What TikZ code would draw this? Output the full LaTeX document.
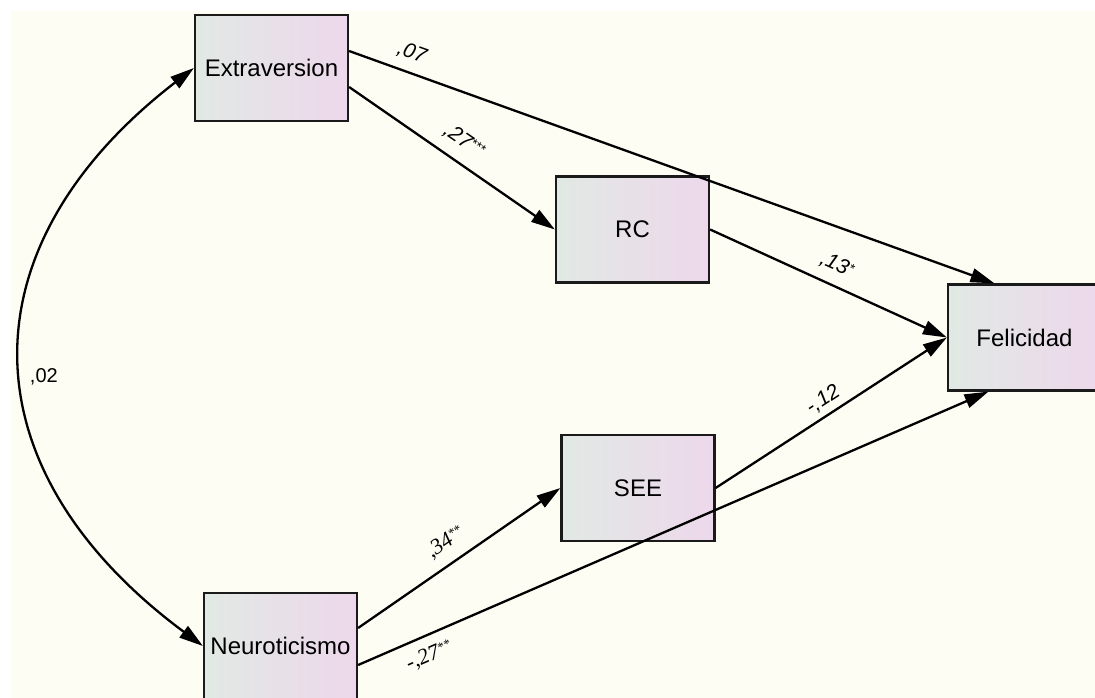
\documentclass[tikz,border=0pt]{standalone}
\usepackage{fontspec}
\setmainfont{Liberation Sans}
\newfontfamily\serifface{Liberation Serif}
\usetikzlibrary{arrows.meta}
\definecolor{bgcream}{HTML}{FDFDF4}
\definecolor{boxl}{HTML}{E1E9E4}
\definecolor{boxr}{HTML}{EDD8EB}
\definecolor{ink}{HTML}{1A1A1A}
\newcommand{\stars}[1]{\raisebox{5pt}{\fontsize{13}{13}\selectfont #1}}
\tikzset{
  varbox/.style={draw=ink, line width=2.2pt, left color=boxl, right color=boxr,
    minimum width=153pt, minimum height=106pt, inner sep=0pt,
    font=\fontsize{24}{28}\selectfont},
  arr/.style={line width=2.3pt, draw=black, -{Triangle[length=24pt,width=14pt]}},
  darr/.style={line width=2.3pt, draw=black, {Triangle[length=24pt,width=14pt]}-{Triangle[length=24pt,width=14pt]}},
  lbl/.style={font=\fontsize{21}{25}\selectfont\itshape, text height=15pt, text depth=4pt, sloped},
  slbl/.style={font=\fontsize{22}{26}\selectfont\serifface\itshape, text height=15pt, text depth=4pt, sloped}
}
\begin{document}
\begin{tikzpicture}[x=1pt,y=-1pt]
\useasboundingbox (0,0) rectangle (1095,698);
\clip (0,0) rectangle (1095,698);
\fill[white] (0,0) rectangle (1095,698);
\fill[bgcream] (11,11) rectangle (1095,698);

\node[varbox] (ext) at (271.5,68) {Extraversion};
\node[varbox] (rc)  at (632.5,229.5) {RC};
\node[varbox] (see) at (638,488) {SEE};
\node[varbox] (fel) at (1024.5,337.5) {Felicidad};
\node[varbox] (neu) at (280.5,646) {Neuroticismo};

\draw[darr] (ext.west) .. controls (-37,246) and (-37,468) .. (neu.west)
  node[pos=0.533, anchor=west, inner sep=0pt, xshift=6pt, font=\fontsize{20}{24}\selectfont] (l02) {,02};

\draw[arr] ([yshift=17pt]ext.east) -- ([xshift=-30pt]fel.north)
  node[lbl, pos=0.087, above, inner sep=8.5pt] (l07) {,07};
\draw[arr] ([yshift=-19pt]ext.east) -- (rc.west)
  node[lbl, pos=0.5, above, inner sep=10pt] (l27a) {,27\stars{***}};
\draw[arr] (rc.east) -- (fel.west)
  node[lbl, pos=0.5, above, inner sep=9pt] (l13) {,13\stars{*}};
\draw[arr] (see.east) -- (fel.west)
  node[lbl, pos=0.5, above, inner sep=4pt] (l12) {-,12};
\draw[arr] ([yshift=18pt]neu.east) -- (see.west)
  node[slbl, pos=0.49, above, inner sep=10pt] (l34) {,34\stars{**}};
\draw[arr] ([yshift=-19pt]neu.east) -- ([xshift=-36pt]fel.south)
  node[slbl, pos=0.1, below, inner sep=9.5pt] (l27b) {-,27\stars{**}};
\end{tikzpicture}
\end{document}
